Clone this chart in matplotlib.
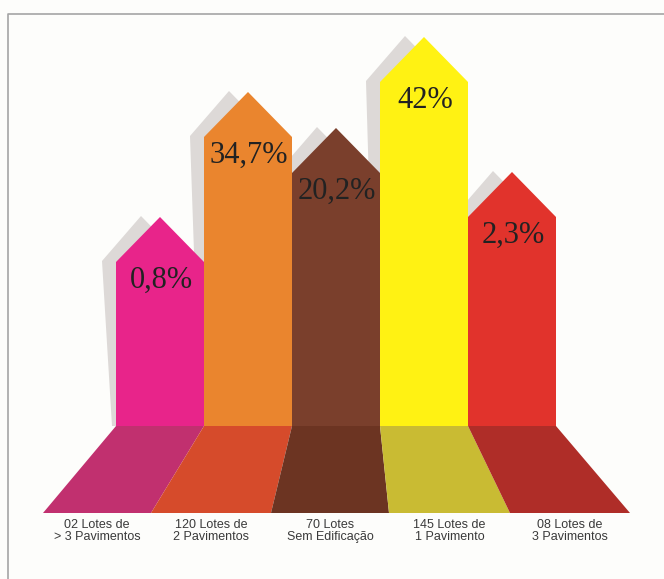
import matplotlib.pyplot as plt
from matplotlib.patches import Polygon

# data
categories = ['02 Lotes de\n> 3 Pavimentos', '120 Lotes de\n2 Pavimentos',
              '70 Lotes\nSem Edificação', '145 Lotes de\n1 Pavimento',
              '08 Lotes de\n3 Pavimentos']
percent_labels = ['0,8%', '34,7%', '20,2%', '42%', '2,3%']
# height of each arrow's shoulder above the floor (picture units)
bar_heights = [164, 289, 253, 344, 209]

bar_colors = ['#E8248A', '#EA852E', '#7A3F2C', '#FFF213', '#E1332C']
floor_colors = ['#C1306F', '#D64B2B', '#6C3422', '#C9BB33', '#AF2D28']
shadow_color = '#DDD9D7'

# layout (pixel-like units, floor top at y=0)
x_start = 116
bar_w = 88
roof = 45
floor_depth = 87
floor_bottom = [43, 151, 271, 389, 510, 630]

fig = plt.figure(figsize=(6.64, 5.79), dpi=100)
fig.patch.set_facecolor('#FDFDFB')
ax = fig.add_axes([0, 0, 1, 1])
ax.set_xlim(0, 664)
ax.set_ylim(426 - 579, 426)
ax.axis('off')

# frame lines
ax.plot([8, 8, 664], [426 - 579, 426 - 14, 426 - 14], color='#A5A5A5', lw=1.2)

# shadows first
for i, h in enumerate(bar_heights):
    x0 = x_start + i * bar_w
    x1 = x0 + bar_w
    xc = (x0 + x1) / 2
    pts = [(x0 - 4, 0), (x0 - 14, h + 1), (xc - 19, h + roof + 1),
           (x1 - 19, h + 1), (x1 - 4, 0)]
    ax.add_patch(Polygon(pts, closed=True, fc=shadow_color, ec='none'))

# arrows
for i, h in enumerate(bar_heights):
    x0 = x_start + i * bar_w
    x1 = x0 + bar_w
    xc = (x0 + x1) / 2
    pts = [(x0, 0), (x0, h), (xc, h + roof), (x1, h), (x1, 0)]
    ax.add_patch(Polygon(pts, closed=True, fc=bar_colors[i], ec='none'))
    ax.text(xc + 1, h - 18, percent_labels[i], ha='center', va='center',
            fontsize=22, family='Liberation Serif', color='#222222')

# floor
for i in range(len(bar_heights)):
    x0 = x_start + i * bar_w
    x1 = x0 + bar_w
    b0, b1 = floor_bottom[i], floor_bottom[i + 1]
    pts = [(x0, 0), (x1, 0), (b1, -floor_depth), (b0, -floor_depth)]
    ax.add_patch(Polygon(pts, closed=True, fc=floor_colors[i], ec='none'))
    ax.text((b0 + b1) / 2, -floor_depth - 6, categories[i], ha='center', va='top',
            fontsize=9, family='Liberation Sans', color='#3A3A3A',
            linespacing=1.05)

plt.savefig('out.png', dpi=100, facecolor=fig.get_facecolor())
